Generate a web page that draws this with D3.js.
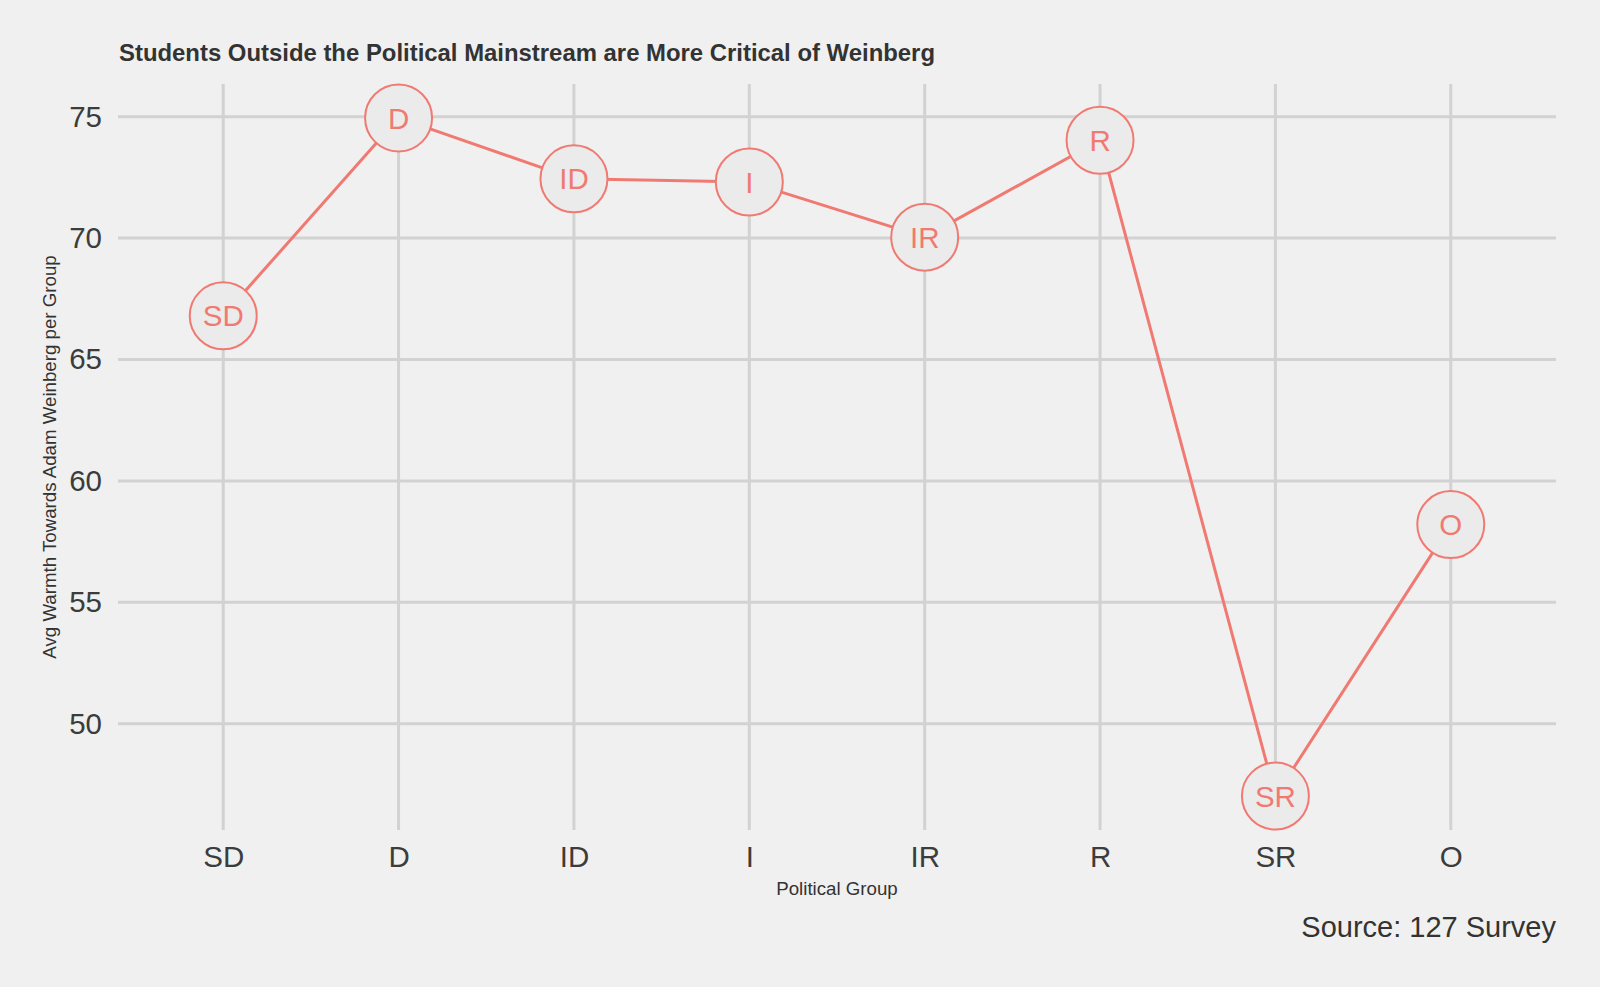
<!DOCTYPE html>
<html><head><meta charset="utf-8">
<script src="https://cdn.jsdelivr.net/npm/d3@7"></script>
<style>
html,body{margin:0;padding:0;background:#f0f0f0;}
svg{display:block;}
text{font-family:"Liberation Sans",Arial,sans-serif;}
</style></head><body>
<svg id="chart" width="1600" height="987"></svg>
<script>
const categories = ["SD","D","ID","I","IR","R","SR","O"];
const values = [66.8, 74.95, 72.44, 72.31, 70.04, 74.03, 47.02, 58.2];
const yTicks = [50, 55, 60, 65, 70, 75];
const title = "Students Outside the Political Mainstream are More Critical of Weinberg";
const xTitle = "Political Group";
const yTitle = "Avg Warmth Towards Adam Weinberg per Group";
const caption = "Source: 127 Survey";

const W = 1600, H = 987;
const panel = {left:118, right:1556, top:84, bottom:830};
const accent = "#F07A72";
const svg = d3.select("#chart");
svg.append("rect").attr("width",W).attr("height",H).attr("fill","#f0f0f0");

const x = d3.scalePoint().domain(categories).range([panel.left, panel.right]).padding(0.6);
const ymin = d3.min(values), ymax = d3.max(values), rng = ymax - ymin;
const y = d3.scaleLinear().domain([ymin - 0.05*rng, ymax + 0.05*rng]).range([panel.bottom, panel.top]);

const grid = svg.append("g");
grid.selectAll("line.h").data(yTicks).join("line")
  .attr("x1",panel.left).attr("x2",panel.right)
  .attr("y1",d=>y(d)).attr("y2",d=>y(d))
  .attr("stroke","#d2d2d2").attr("stroke-width",3);
grid.selectAll("line.v").data(categories).join("line")
  .attr("x1",d=>x(d)).attr("x2",d=>x(d))
  .attr("y1",panel.top).attr("y2",panel.bottom)
  .attr("stroke","#d2d2d2").attr("stroke-width",3);

const yAxis = d3.axisLeft(y).tickValues(yTicks).tickSize(0).tickPadding(16);
const gy = svg.append("g").attr("transform",`translate(${panel.left},0)`).call(yAxis);
gy.select(".domain").remove();
gy.selectAll("text").attr("font-size",29.5).attr("fill","#3c3c3c").attr("font-family","Liberation Sans, Arial, sans-serif");

const xAxis = d3.axisBottom(x).tickSize(0).tickPadding(16);
const gx = svg.append("g").attr("transform",`translate(0,${panel.bottom})`).call(xAxis);
gx.select(".domain").remove();
gx.selectAll("text").attr("font-size",29.5).attr("fill","#3c3c3c").attr("font-family","Liberation Sans, Arial, sans-serif");

const data = categories.map((c,i)=>({c, v:values[i]}));
const line = d3.line().x(d=>x(d.c)).y(d=>y(d.v));
svg.append("path").datum(data).attr("d",line)
  .attr("fill","none").attr("stroke",accent).attr("stroke-width",3);

const pts = svg.append("g").selectAll("g").data(data).join("g")
  .attr("transform",d=>`translate(${x(d.c)},${y(d.v)})`);
pts.append("circle").attr("r",33.5).attr("fill","#ebebeb")
  .attr("stroke",accent).attr("stroke-width",2);
pts.append("text").text(d=>d.c).attr("text-anchor","middle").attr("dy","0.36em")
  .attr("font-size",29.5).attr("fill",accent);

svg.append("text").text(title).attr("x",119).attr("y",61)
  .attr("font-size",23.9).attr("font-weight","bold").attr("fill","#333");
svg.append("text").text(xTitle).attr("x",(panel.left+panel.right)/2).attr("y",895)
  .attr("text-anchor","middle").attr("font-size",18.7).attr("fill","#333");
svg.append("text").text(yTitle)
  .attr("transform",`translate(56,${(panel.top+panel.bottom)/2}) rotate(-90)`)
  .attr("text-anchor","middle").attr("font-size",18.7).attr("fill","#333");
svg.append("text").text(caption).attr("x",panel.right).attr("y",937)
  .attr("text-anchor","end").attr("font-size",29).attr("fill","#333");
</script>
</body></html>
